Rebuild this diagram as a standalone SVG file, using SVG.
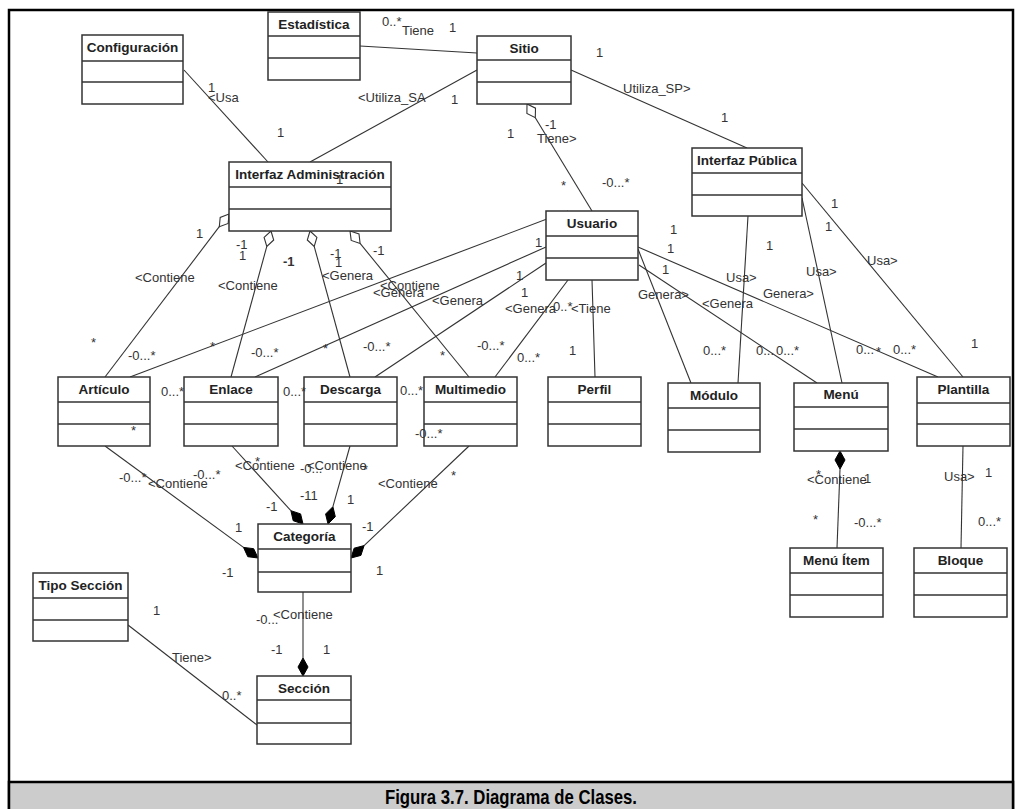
<svg xmlns="http://www.w3.org/2000/svg" width="1022" height="809" viewBox="0 0 1022 809">
<style>
.box{fill:#fff;stroke:#333;stroke-width:1.5}
.div{stroke:#333;stroke-width:1.5}
.t{font-family:"Liberation Sans",Arial,sans-serif;font-size:13.5px;font-weight:bold;fill:#222;text-anchor:middle}
.l{font-family:"Liberation Sans",Arial,sans-serif;font-size:13px;fill:#333}
.c line,.c path{stroke:#333;stroke-width:1.1;fill:none}
.hd{fill:#fff;stroke:#333;stroke-width:1.1}
.fd{fill:#000;stroke:#000;stroke-width:1}
</style>
<rect x="0" y="0" width="1022" height="809" fill="#fff"/>
<rect x="9" y="10" width="1004" height="810" fill="none" stroke="#000" stroke-width="2.5"/>
<rect x="9" y="782" width="1004" height="30" fill="#cccccc" stroke="#000" stroke-width="2.5"/>
<text x="511" y="804" font-family="Liberation Sans,Arial,sans-serif" font-size="21" font-weight="bold" text-anchor="middle" textLength="252" lengthAdjust="spacingAndGlyphs">Figura 3.7. Diagrama de Clases.</text>

<g class="c" id="connectors">
<line x1="360" y1="46" x2="477" y2="53"/>
<line x1="184" y1="70" x2="268" y2="162"/>
<line x1="477" y1="70" x2="310" y2="162"/>
<line x1="571" y1="70" x2="747" y2="148"/>
<line x1="535.3" y1="117.7" x2="592" y2="211"/>
<line x1="748" y1="216" x2="738" y2="383"/>
<line x1="802" y1="198" x2="842" y2="383"/>
<line x1="802" y1="183" x2="963" y2="377"/>
<line x1="639" y1="265" x2="817" y2="383"/>
<line x1="638" y1="247" x2="938" y2="377"/>
<line x1="638" y1="249" x2="691" y2="383"/>
<line x1="592" y1="280" x2="595" y2="377"/>
<line x1="568" y1="280" x2="495" y2="377"/>
<line x1="546" y1="263" x2="375" y2="377"/>
<line x1="546" y1="247" x2="255" y2="377"/>
<line x1="568" y1="211" x2="130" y2="377"/>
<line x1="219.3" y1="226.7" x2="105" y2="377"/>
<line x1="266.8" y1="246.4" x2="231" y2="377"/>
<line x1="314.2" y1="246.4" x2="350" y2="377"/>
<line x1="360.1" y1="243.4" x2="469" y2="377"/>
<line x1="105" y1="446" x2="243.5" y2="547.4"/>
<line x1="232" y1="446" x2="290.9" y2="510.7"/>
<line x1="350" y1="446" x2="332.9" y2="506.7"/>
<line x1="469" y1="446" x2="364.1" y2="545.6"/>
<line x1="303" y1="592" x2="303" y2="658"/>
<line x1="128" y1="625" x2="257" y2="725"/>
<line x1="840" y1="469" x2="837" y2="548"/>
<line x1="963" y1="446" x2="961" y2="548"/>
<polygon class="hd" points="527,104 526.9,113.4 535.3,117.7 535.5,108.2"/>
<polygon class="hd" points="229,214 228.2,223.4 219.3,226.7 220.2,217.4"/>
<polygon class="hd" points="271,231 273.7,240 266.8,246.4 264.1,237.4"/>
<polygon class="hd" points="310,231 316.9,237.4 314.2,246.4 307.3,240"/>
<polygon class="hd" points="350,231 359,234 360.1,243.4 351.2,240.4"/>
<polygon class="fd" points="258,558 253.7,548.7 243.5,547.4 247.8,556.7"/>
<polygon class="fd" points="303,524 300.6,513.9 290.9,510.7 293.2,520.7"/>
<polygon class="fd" points="328,524 335.3,516.7 332.9,506.7 325.6,514"/>
<polygon class="fd" points="351,558 360.9,555.4 364.1,545.6 354.1,548.2"/>
<polygon class="fd" points="303,676 308,667 303,658 298,667"/>
<polygon class="fd" points="840,451 845,460 840,469 835,460"/>
</g>

<g id="estadistica"><rect class="box" x="268" y="12" width="92" height="68"/><line class="div" x1="268" y1="36" x2="360" y2="36"/><line class="div" x1="268" y1="58" x2="360" y2="58"/><text class="t" x="314" y="29">Estadística</text></g>
<g id="configuracion"><rect class="box" x="82" y="35" width="101" height="69"/><line class="div" x1="82" y1="61" x2="183" y2="61"/><line class="div" x1="82" y1="82" x2="183" y2="82"/><text class="t" x="132.5" y="52">Configuración</text></g>
<g id="sitio"><rect class="box" x="477" y="36" width="94" height="68"/><line class="div" x1="477" y1="60" x2="571" y2="60"/><line class="div" x1="477" y1="82" x2="571" y2="82"/><text class="t" x="524" y="53">Sitio</text></g>
<g id="interfaz-admin"><rect class="box" x="229" y="162" width="162" height="69"/><line class="div" x1="229" y1="187" x2="391" y2="187"/><line class="div" x1="229" y1="209" x2="391" y2="209"/><text class="t" x="310" y="179">Interfaz Administración</text></g>
<g id="interfaz-publica"><rect class="box" x="692" y="148" width="110" height="68"/><line class="div" x1="692" y1="173" x2="802" y2="173"/><line class="div" x1="692" y1="195" x2="802" y2="195"/><text class="t" x="747" y="165">Interfaz Pública</text></g>
<g id="usuario"><rect class="box" x="546" y="211" width="92" height="69"/><line class="div" x1="546" y1="236" x2="638" y2="236"/><line class="div" x1="546" y1="258" x2="638" y2="258"/><text class="t" x="592" y="228">Usuario</text></g>
<g id="articulo"><rect class="box" x="58" y="377" width="92" height="69"/><line class="div" x1="58" y1="402" x2="150" y2="402"/><line class="div" x1="58" y1="424" x2="150" y2="424"/><text class="t" x="104" y="394">Artículo</text></g>
<g id="enlace"><rect class="box" x="184" y="377" width="94" height="69"/><line class="div" x1="184" y1="402" x2="278" y2="402"/><line class="div" x1="184" y1="424" x2="278" y2="424"/><text class="t" x="231" y="394">Enlace</text></g>
<g id="descarga"><rect class="box" x="304" y="377" width="93" height="69"/><line class="div" x1="304" y1="402" x2="397" y2="402"/><line class="div" x1="304" y1="424" x2="397" y2="424"/><text class="t" x="350.5" y="394">Descarga</text></g>
<g id="multimedio"><rect class="box" x="424" y="377" width="93" height="69"/><line class="div" x1="424" y1="402" x2="517" y2="402"/><line class="div" x1="424" y1="424" x2="517" y2="424"/><text class="t" x="470.5" y="394">Multimedio</text></g>
<g id="perfil"><rect class="box" x="548" y="377" width="93" height="69"/><line class="div" x1="548" y1="402" x2="641" y2="402"/><line class="div" x1="548" y1="424" x2="641" y2="424"/><text class="t" x="594.5" y="394">Perfil</text></g>
<g id="modulo"><rect class="box" x="668" y="383" width="92" height="69"/><line class="div" x1="668" y1="408" x2="760" y2="408"/><line class="div" x1="668" y1="430" x2="760" y2="430"/><text class="t" x="714" y="400">Módulo</text></g>
<g id="menu"><rect class="box" x="794" y="383" width="94" height="68"/><line class="div" x1="794" y1="407" x2="888" y2="407"/><line class="div" x1="794" y1="429" x2="888" y2="429"/><text class="t" x="841" y="399">Menú</text></g>
<g id="plantilla"><rect class="box" x="917" y="377" width="93" height="69"/><line class="div" x1="917" y1="403" x2="1010" y2="403"/><line class="div" x1="917" y1="424" x2="1010" y2="424"/><text class="t" x="963.5" y="394">Plantilla</text></g>
<g id="menu-item"><rect class="box" x="790" y="548" width="93" height="69"/><line class="div" x1="790" y1="573" x2="883" y2="573"/><line class="div" x1="790" y1="595" x2="883" y2="595"/><text class="t" x="836.5" y="565">Menú Ítem</text></g>
<g id="bloque"><rect class="box" x="914" y="548" width="93" height="69"/><line class="div" x1="914" y1="573" x2="1007" y2="573"/><line class="div" x1="914" y1="595" x2="1007" y2="595"/><text class="t" x="960.5" y="565">Bloque</text></g>
<g id="categoria"><rect class="box" x="258" y="524" width="93" height="68"/><line class="div" x1="258" y1="549" x2="351" y2="549"/><line class="div" x1="258" y1="572" x2="351" y2="572"/><text class="t" x="304.5" y="541">Categoría</text></g>
<g id="tipo-seccion"><rect class="box" x="33" y="573" width="95" height="68"/><line class="div" x1="33" y1="598" x2="128" y2="598"/><line class="div" x1="33" y1="620" x2="128" y2="620"/><text class="t" x="80.5" y="590">Tipo Sección</text></g>
<g id="seccion"><rect class="box" x="257" y="676" width="94" height="68"/><line class="div" x1="257" y1="700" x2="351" y2="700"/><line class="div" x1="257" y1="723" x2="351" y2="723"/><text class="t" x="304" y="693">Sección</text></g>

<g id="labels" class="l">
<text x="382" y="26">0..*</text>
<text x="402" y="35">Tiene</text>
<text x="449" y="32">1</text>
<text x="208" y="92">1</text>
<text x="208" y="102">&lt;Usa</text>
<text x="277" y="137">1</text>
<text x="358" y="102">&lt;Utiliza_SA</text>
<text x="451" y="104">1</text>
<text x="336" y="184">1</text>
<text x="596" y="57">1</text>
<text x="623" y="93">Utiliza_SP&gt;</text>
<text x="721" y="122">1</text>
<text x="507" y="138">1</text>
<text x="545" y="129">-1</text>
<text x="537" y="143">Tiene&gt;</text>
<text x="561" y="190">*</text>
<text x="602" y="187">-0...*</text>
<text x="196" y="238">1</text>
<text x="135" y="282">&lt;Contiene</text>
<text x="91" y="347">*</text>
<text x="128" y="360">-0...*</text>
<text x="210" y="351">*</text>
<text x="236" y="249">-1</text>
<text x="239" y="260">1</text>
<text x="218" y="290">&lt;Contiene</text>
<text x="283" y="266" font-weight="bold">-1</text>
<text x="251" y="357">-0...*</text>
<text x="330" y="258">-1</text>
<text x="335" y="267">1</text>
<text x="322" y="280">&lt;Genera</text>
<text x="373" y="255">-1</text>
<text x="380" y="290">&lt;Contiene</text>
<text x="373" y="297">&lt;Genera</text>
<text x="432" y="305">&lt;Genera</text>
<text x="323" y="353">*</text>
<text x="363" y="351">-0...*</text>
<text x="440" y="360">*</text>
<text x="477" y="350">-0...*</text>
<text x="517" y="362">0...*</text>
<text x="569" y="355">1</text>
<text x="535" y="247">1</text>
<text x="516" y="280">1</text>
<text x="521" y="297">1</text>
<text x="505" y="313">&lt;Genera</text>
<text x="553" y="311">0..*</text>
<text x="571" y="313">&lt;Tiene</text>
<text x="638" y="299">Genera&gt;</text>
<text x="670" y="234">1</text>
<text x="667" y="253">1</text>
<text x="662" y="274">1</text>
<text x="726" y="282">Usa&gt;</text>
<text x="702" y="308">&lt;Genera</text>
<text x="763" y="298">Genera&gt;</text>
<text x="766" y="250">1</text>
<text x="806" y="276">Usa&gt;</text>
<text x="825" y="231">1</text>
<text x="831" y="208">1</text>
<text x="867" y="265">Usa&gt;</text>
<text x="971" y="348">1</text>
<text x="703" y="355">0...*</text>
<text x="756" y="355">0...</text>
<text x="776" y="355">0...*</text>
<text x="856" y="354">0...</text>
<text x="876" y="356">*</text>
<text x="893" y="354">0...*</text>
<text x="161" y="396">0...*</text>
<text x="283" y="396">0...*</text>
<text x="400" y="395">0...*</text>
<text x="131" y="435">*</text>
<text x="415" y="438">-0...*</text>
<text x="119" y="482">-0...*</text>
<text x="148" y="488">&lt;Contiene</text>
<text x="193" y="479">-0...*</text>
<text x="235" y="470">&lt;Contiene</text>
<text x="255" y="466">*</text>
<text x="300" y="473">-0...</text>
<text x="307" y="470">&lt;Contiene</text>
<text x="363" y="474">*</text>
<text x="378" y="488">&lt;Contiene</text>
<text x="451" y="480">*</text>
<text x="235" y="532">1</text>
<text x="222" y="577">-1</text>
<text x="266" y="511">-1</text>
<text x="300" y="500">-11</text>
<text x="347" y="504">1</text>
<text x="362" y="531">-1</text>
<text x="376" y="575">1</text>
<text x="256" y="624">-0...</text>
<text x="273" y="619">&lt;Contiene</text>
<text x="271" y="654">-1</text>
<text x="323" y="654">1</text>
<text x="153" y="615">1</text>
<text x="172" y="662">Tiene&gt;</text>
<text x="222" y="700">0..*</text>
<text x="807" y="484">&lt;Contiene</text>
<text x="816" y="479">*</text>
<text x="864" y="483">1</text>
<text x="813" y="524">*</text>
<text x="854" y="527">-0...*</text>
<text x="944" y="481">Usa&gt;</text>
<text x="985" y="477">1</text>
<text x="978" y="526">0...*</text>
</g>
</svg>
